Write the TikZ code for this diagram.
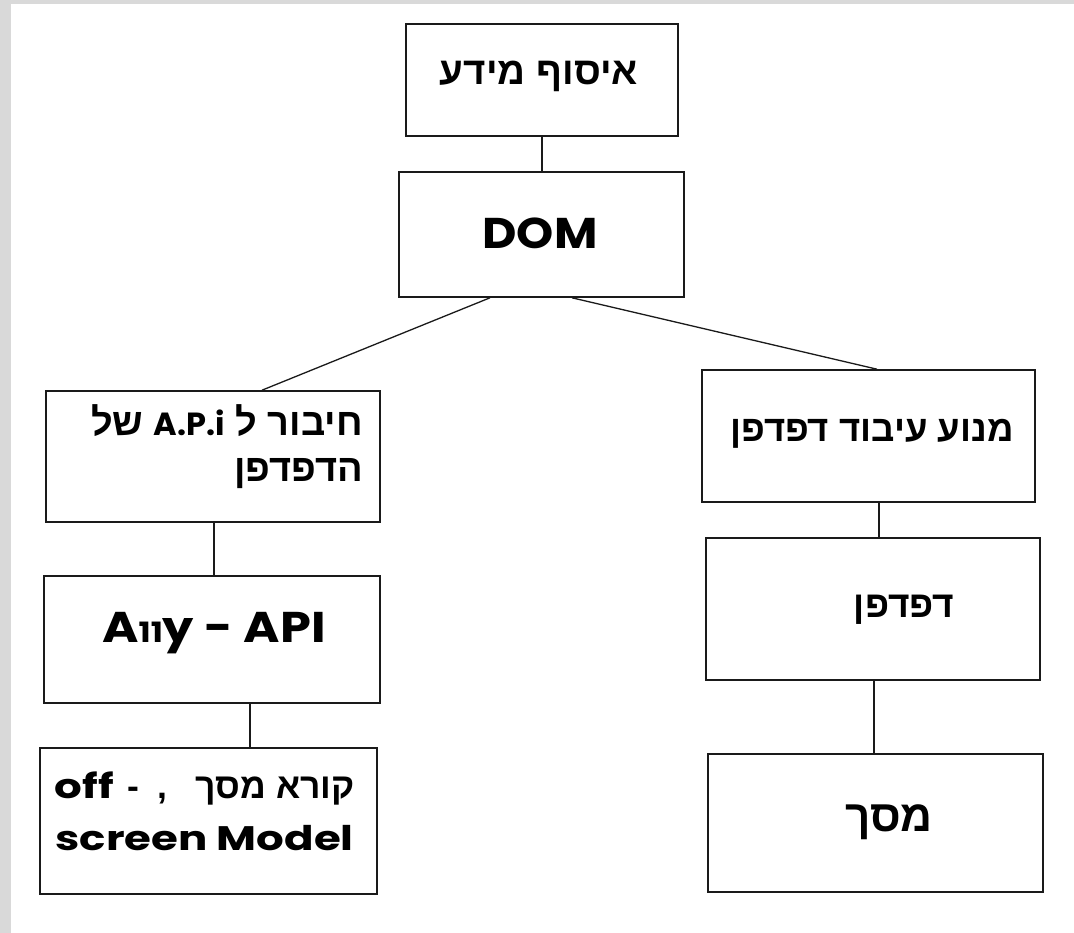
\documentclass[tikz,border=0pt]{standalone}
\usepackage{fontspec}
\TeXXeTstate=1
\newfontfamily\heb{Liberation Sans}[Script=Hebrew, UprightFont={* Bold}, BoldFont={* Bold}]
\newfontfamily\lat{Poppins}
\newfontfamily\latD{Poppins}[FakeStretch=1.1]
\newfontfamily\latA{Poppins}[FakeStretch=1.15]
\newfontfamily\latS{Poppins}[FakeStretch=1.28]
\definecolor{graybg}{HTML}{D9D9D9}
\definecolor{ink}{HTML}{1A1A1A}
\tikzset{
  box/.style={draw=ink, line width=1.6pt, inner sep=0pt, fill=white},
  link/.style={draw=ink, line width=1.3pt},
  txt/.style={inner sep=0pt, text=black},
}
\begin{document}
\begin{tikzpicture}[x=1pt,y=-1pt]
\useasboundingbox (0,0) rectangle (1074,933);
\fill[graybg] (0,0) rectangle (1074,933);
\fill[white] (11,4) rectangle (1074,933);
% boxes
\node[box, minimum width=272pt, minimum height=112pt] (b1) at (542,80) {};
\node[box, minimum width=285pt, minimum height=125pt] (b2) at (541.5,234.5) {};
\node[box, minimum width=334pt, minimum height=131pt] (b3) at (213,456.5) {};
\node[box, minimum width=336pt, minimum height=127pt] (b4) at (212,639.5) {};
\node[box, minimum width=337pt, minimum height=146pt] (b5) at (208.5,821) {};
\node[box, minimum width=333pt, minimum height=132pt] (b6) at (868.5,436) {};
\node[box, minimum width=334pt, minimum height=142pt] (b7) at (873,609) {};
\node[box, minimum width=335pt, minimum height=138pt] (b8) at (875.5,823) {};
% connectors
\draw[link] (b1.south) -- (b1.south |- b2.north);
\draw[link] ([xshift=-51.5pt]b2.south) -- ([xshift=49pt]b3.north);
\draw[link] ([xshift=30.5pt]b2.south) -- ([xshift=8.5pt]b6.north);
\draw[link] ([xshift=1pt]b3.south) -- ([xshift=2pt]b4.north);
\draw[link] ([xshift=38pt]b4.south) -- ([xshift=41.5pt]b5.north);
\draw[link] ([xshift=10.5pt]b6.south) -- ([xshift=6pt]b7.north);
\draw[link] ([xshift=1pt]b7.south) -- ([xshift=-1.5pt]b8.north);
% texts
\node[txt] (t1) at (539,76) {\heb\bfseries\fontsize{38.5}{38.5}\selectfont\beginR איסוף מידע\endR};
\node[txt] (t2) at (540,233) {\latD\bfseries\fontsize{43}{43}\selectfont DOM};
\node[txt, anchor=base east] (t3a) at (363,435) {\heb\bfseries\fontsize{38}{38}\selectfont\beginR חיבור ל \beginL{\lat\bfseries\fontsize{32}{32}\selectfont A.P.i}\endL{} של\endR};
\node[txt, anchor=base east] (t3b) at (363,481) {\heb\bfseries\fontsize{38}{38}\selectfont\beginR הדפדפן\endR};
\node[txt] (t4) at (214,633) {\latA\bfseries\fontsize{43}{43}\selectfont A{\fontsize{28}{28}\selectfont 11}y - API};
\node[txt, anchor=base east] (t5a) at (355,798) {\heb\bfseries\fontsize{35.5}{35.5}\selectfont\beginR קורא מסך\hspace{28pt},\hspace{18pt}-\hspace{14pt}\beginL{\latS\bfseries\fontsize{34}{34}\selectfont off}\endL\endR};
\node[txt, anchor=base east] (t5b) at (354,850) {\latS\bfseries\fontsize{34}{34}\selectfont screen Model};
\node[txt] (t6) at (872,434) {\heb\bfseries\fontsize{36.5}{36.5}\selectfont\beginR מנוע עיבוד דפדפן\endR};
\node[txt] (t7) at (904,610) {\heb\bfseries\fontsize{37}{37}\selectfont\beginR דפדפן\endR};
\node[txt] (t8) at (889,822) {\heb\bfseries\fontsize{44}{44}\selectfont\beginR מסך\endR};
\end{tikzpicture}
\end{document}
